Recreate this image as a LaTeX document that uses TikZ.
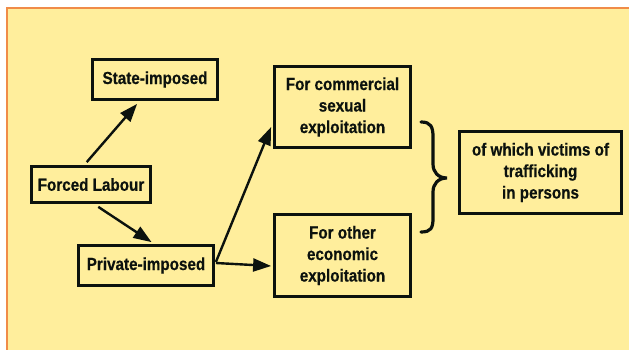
\documentclass[tikz,border=0pt]{standalone}
\usepackage{fontspec}
\setmainfont{Liberation Sans}[FakeStretch=0.87, BoldFeatures={FakeBold=0.5}]
\usetikzlibrary{arrows.meta,calc}
\definecolor{panel}{RGB}{255,238,156}
\definecolor{panelline}{RGB}{240,140,72}
\definecolor{ink}{RGB}{12,18,14}
\tikzset{
  box/.style={draw=ink, line width=2.8pt, inner sep=0pt, align=center,
    text=ink, font=\fontsize{17.5}{21.5}\selectfont\bfseries},
  arr/.style={draw=ink, line width=2.4pt, -{Triangle[length=18pt,width=13pt]}},
  bracestyle/.style={draw=ink, line width=3.2pt, line cap=round}
}
\begin{document}
\begin{tikzpicture}[x=1pt,y=-1pt]
\useasboundingbox (0,0) rectangle (629,350);
\fill[white] (0,0) rectangle (629,350);
\filldraw[fill=panel, draw=panelline, line width=1.6pt] (6.8,7.8) rectangle (660,380);

\node[box, minimum width=125pt, minimum height=40pt] (st) at (155,79.5) {State-imposed};
\node[box, minimum width=119pt, minimum height=36pt] (fl) at (91,184.5) {Forced Labour};
\node[box, minimum width=135pt, minimum height=40pt] (pr) at (146,265.5) {Private-imposed};
\node[box, minimum width=136pt, minimum height=81pt] (cm) at (342.5,107) {For commercial\\sexual\\exploitation};
\node[box, minimum width=136pt, minimum height=82pt] (ot) at (342.5,255.5) {For other\\economic\\exploitation};
\node[box, minimum width=162pt, minimum height=82pt] (vi) at (540.5,172.5) {of which victims of\\trafficking\\in persons};

\draw[arr] ($(fl.north west)!0.465!(fl.north east)+(0,-3)$) -- ($(st.south west)!0.36!(st.south east)+(0,3)$);
\draw[arr] ($(fl.south west)!0.56!(fl.south east)+(0,3)$) -- ($(pr.north west)!0.54!(pr.north east)+(0,-2)$);
\draw[arr] ($(pr.east)+(1,-3.5)$) -- ($(cm.west)+(-2,20)$);
\draw[arr] ($(pr.east)+(1,-2.5)$) -- ($(ot.west)+(-2,10.5)$);

\draw[bracestyle] (421,122) .. controls (431,122) and (433,127) .. (433,137)
  -- (433,164) .. controls (433,172) and (438,178) .. (447,178)
  .. controls (438,178) and (433,184) .. (433,192)
  -- (433,218) .. controls (433,228) and (431,232) .. (421,232);
\end{tikzpicture}
\end{document}
